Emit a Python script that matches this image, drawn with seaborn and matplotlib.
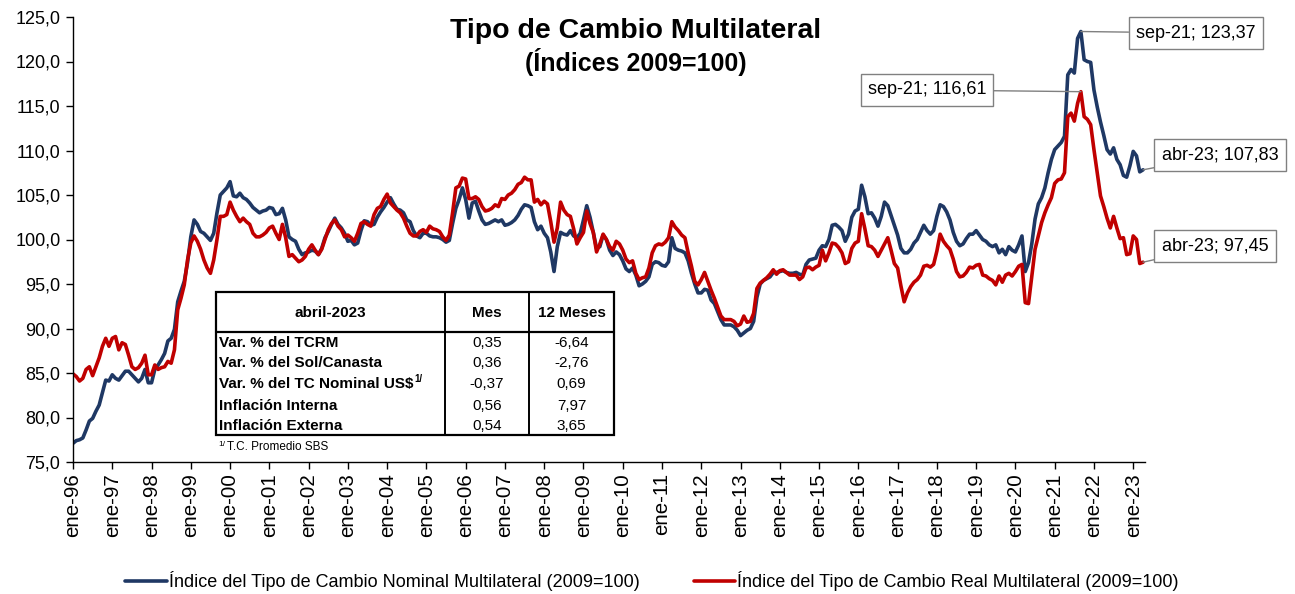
import matplotlib
matplotlib.use("Agg")
import matplotlib.pyplot as plt
import numpy as np
import pandas as pd
import seaborn as sns
from matplotlib.ticker import FuncFormatter, FixedLocator
from matplotlib.lines import Line2D
from matplotlib.patches import Rectangle

# ---------------- data (monthly, ene-1996 .. abr-2023) ----------------
nominal = [
    77.1, 77.4, 77.5, 77.7, 78.6, 79.6, 79.9, 80.7, 81.4, 82.8, 84.2, 84.1,          # 1996
    84.8, 84.4, 84.2, 84.7, 85.2, 85.2, 84.8, 84.4, 84.0, 84.4, 85.4, 83.9,          # 1997
    83.9, 85.4, 85.9, 86.5, 87.2, 88.6, 88.9, 89.9, 93.0, 94.2, 95.3, 97.4,          # 1998
    100.3, 102.2, 101.7, 100.9, 100.7, 100.3, 99.9, 100.7, 103.0, 105.0, 105.4, 105.8,  # 1999
    106.5, 104.9, 104.8, 105.2, 104.7, 104.5, 104.1, 103.6, 103.3, 103.0, 103.2, 103.3,  # 2000
    103.6, 103.5, 102.8, 102.9, 103.5, 102.2, 100.3, 100.0, 99.8, 98.9, 98.3, 98.5,  # 2001
    98.6, 98.8, 98.7, 98.3, 99.0, 100.2, 100.9, 101.7, 102.4, 101.7, 101.3, 100.7,   # 2002
    99.8, 99.9, 99.4, 99.6, 101.0, 102.1, 102.0, 101.6, 101.7, 102.5, 103.1, 103.6,  # 2003
    104.2, 104.7, 104.0, 103.4, 103.3, 103.0, 102.2, 102.0, 101.0, 100.4, 100.2, 100.7,  # 2004
    100.7, 100.4, 100.3, 100.3, 100.2, 100.0, 99.7, 99.9, 101.8, 103.5, 104.5, 105.8,  # 2005
    104.5, 102.4, 104.1, 104.3, 103.2, 102.2, 101.7, 101.8, 102.0, 102.2, 102.0, 102.2,  # 2006
    101.6, 101.7, 101.9, 102.2, 102.7, 103.4, 103.9, 103.8, 103.6, 102.0, 101.1, 101.5,  # 2007
    100.7, 100.2, 98.6, 96.4, 99.2, 100.8, 100.6, 100.5, 101.0, 100.4, 100.2, 100.7,  # 2008
    102.2, 103.8, 102.5, 100.8, 99.0, 99.2, 100.5, 100.0, 98.8, 98.2, 98.6, 98.3,    # 2009
    97.6, 96.7, 96.4, 96.8, 96.0, 94.8, 95.0, 95.3, 95.8, 97.2, 97.5, 97.4,          # 2010
    97.1, 97.0, 97.5, 100.2, 99.0, 98.8, 98.7, 98.5, 97.6, 96.2, 95.0, 94.0,         # 2011
    94.0, 94.4, 94.3, 93.2, 92.8, 91.9, 91.0, 90.4, 90.4, 90.4, 90.2, 89.8,          # 2012
    89.2, 89.5, 89.8, 90.0, 90.8, 93.5, 95.0, 95.4, 95.6, 95.8, 96.3, 96.3,          # 2013
    96.4, 96.5, 96.3, 96.2, 96.2, 96.3, 96.1, 96.0, 97.2, 97.7, 97.8, 97.9,          # 2014
    98.8, 99.3, 99.2, 100.0, 101.6, 101.7, 101.4, 101.0, 99.8, 100.6, 102.5, 103.2,  # 2015
    103.4, 106.1, 104.8, 102.9, 103.0, 102.4, 101.5, 102.6, 104.2, 103.8, 102.7, 101.6,  # 2016
    100.5, 99.0, 98.5, 98.5, 98.9, 99.6, 100.0, 100.8, 101.6, 101.0, 100.6, 101.0,   # 2017
    102.6, 103.9, 103.7, 103.1, 102.2, 100.8, 99.8, 99.3, 99.5, 100.1, 100.6, 100.6,  # 2018
    101.0, 100.5, 100.0, 99.8, 99.4, 99.2, 99.4, 98.5, 98.9, 98.3, 99.2, 98.8,       # 2019
    98.6, 99.4, 100.4, 96.4, 97.4, 99.5, 102.3, 104.0, 104.7, 105.8, 107.5, 109.0,   # 2020
    110.1, 110.5, 110.9, 111.6, 118.5, 119.1, 118.7, 122.6, 123.37, 120.2, 120.0, 119.9,  # 2021
    116.8, 114.9, 113.2, 111.7, 110.1, 109.6, 110.3, 109.0, 108.4, 107.2, 107.0, 108.3,  # 2022
    109.9, 109.4, 107.6, 107.83,                                                       # 2023
]

real = [
    84.9, 84.6, 84.1, 84.4, 85.4, 85.7, 84.7, 85.7, 86.7, 88.0, 88.9, 88.0,          # 1996
    88.9, 89.1, 87.6, 88.4, 88.2, 87.0, 85.7, 85.4, 85.6, 86.1, 87.0, 84.8,          # 1997
    84.8, 85.9, 85.4, 85.6, 85.7, 86.3, 86.1, 87.6, 92.1, 93.4, 94.9, 97.7,          # 1998
    99.6, 100.4, 99.8, 98.9, 97.7, 96.8, 96.2, 97.7, 100.0, 102.6, 102.6, 102.8,     # 1999
    104.2, 103.3, 102.6, 102.0, 102.4, 102.0, 101.7, 100.7, 100.3, 100.3, 100.5, 100.8,  # 2000
    101.3, 101.5, 100.7, 100.0, 101.7, 100.2, 98.1, 98.3, 97.9, 97.5, 97.7, 98.1,    # 2001
    98.9, 99.4, 98.8, 98.3, 98.9, 100.0, 101.1, 101.8, 102.2, 101.5, 101.1, 100.3,   # 2002
    100.5, 100.2, 99.8, 100.7, 101.8, 102.0, 101.7, 101.5, 102.8, 103.5, 103.7, 104.5,  # 2003
    105.1, 104.1, 103.7, 103.3, 103.0, 102.4, 101.5, 100.7, 100.4, 100.4, 100.9, 101.1,  # 2004
    100.8, 101.5, 101.2, 101.1, 100.9, 100.3, 99.9, 100.5, 103.0, 105.8, 106.0, 106.9,  # 2005
    106.8, 104.6, 104.6, 104.8, 104.5, 103.7, 103.2, 103.3, 103.5, 103.9, 103.7, 104.6,  # 2006
    104.5, 105.0, 105.2, 105.6, 106.2, 106.4, 107.0, 106.7, 106.7, 104.2, 104.5, 103.9,  # 2007
    104.3, 104.0, 102.0, 99.7, 101.3, 104.2, 103.3, 102.8, 102.6, 101.2, 99.5, 100.2,  # 2008
    100.8, 103.2, 101.8, 100.8, 98.6, 99.5, 100.6, 100.0, 99.2, 98.8, 99.8, 99.5,    # 2009
    98.8, 97.8, 97.4, 97.6, 96.2, 95.5, 95.7, 95.8, 96.8, 98.5, 99.3, 99.5,          # 2010
    99.4, 99.7, 100.2, 102.0, 101.4, 101.0, 100.5, 100.2, 98.5, 97.0, 95.3, 94.9,    # 2011
    95.5, 96.3, 95.3, 94.3, 93.4, 92.4, 91.4, 91.0, 91.0, 91.0, 90.8, 90.3,          # 2012
    90.5, 91.4, 90.7, 90.8, 91.7, 94.5, 95.1, 95.4, 95.7, 96.1, 96.6, 96.1,          # 2013
    96.5, 96.6, 96.3, 96.0, 96.0, 96.0, 95.5, 95.8, 96.8, 96.9, 96.6, 96.9,          # 2014
    97.1, 98.8, 97.6, 98.5, 99.6, 99.5, 99.1, 98.5, 97.3, 97.5, 99.0, 99.6,          # 2015
    99.8, 102.9, 101.2, 99.3, 99.2, 98.8, 98.1, 98.8, 99.5, 100.2, 98.8, 97.3,       # 2016
    96.8, 94.8, 93.0, 94.0, 94.7, 95.2, 95.5, 96.0, 97.0, 97.1, 96.9, 97.2,          # 2017
    98.7, 100.6, 99.8, 99.3, 98.9, 97.8, 96.4, 95.8, 95.9, 96.3, 96.9, 96.8,         # 2018
    97.1, 97.2, 96.0, 95.9, 95.6, 95.4, 94.9, 95.9, 95.2, 96.0, 96.2, 95.9,          # 2019
    96.4, 97.0, 97.2, 92.9, 92.8, 95.9, 98.9, 100.4, 101.9, 103.0, 103.9, 104.7,     # 2020
    106.3, 106.7, 106.8, 107.5, 113.8, 114.2, 113.3, 115.3, 116.61, 113.8, 113.5, 112.9,  # 2021
    110.1, 107.5, 104.9, 103.7, 102.4, 101.3, 102.6, 101.3, 100.1, 100.2, 98.3, 98.4,  # 2022
    100.4, 100.0, 97.3, 97.45,                                                         # 2023
]

tick_labels = ["ene-96", "ene-97", "ene-98", "ene-99", "ene-00", "ene-01", "ene-02",
               "ene-03", "ene-04", "ene-05", "ene-06", "ene-07", "ene-08", "ene-09",
               "ene-10", "ene-11", "ene-12", "ene-13", "ene-14", "ene-15", "ene-16",
               "ene-17", "ene-18", "ene-19", "ene-20", "ene-21", "ene-22", "ene-23"]

series_names = ["Índice del Tipo de Cambio Nominal Multilateral (2009=100)",
                "Índice del Tipo de Cambio Real Multilateral (2009=100)"]

table_header = ["abril-2023", "Mes", "12 Meses"]
table_rows = ["Var. % del TCRM", "Var. % del Sol/Canasta", "Var. % del TC Nominal US$",
              "Inflación Interna", "Inflación Externa"]
table_mes = ["0,35", "0,36", "-0,37", "0,56", "0,54"]
table_12m = ["-6,64", "-2,76", "0,69", "7,97", "3,65"]

peak_idx = 308   # sep-21
last_idx = 327   # abr-23

# ---------------- style ----------------
W, H = 1295, 594
BLUE = "#1F3864"
RED = "#C00000"
GRAY = "#808080"

sns.set_theme(style="ticks")
plt.rcParams['font.family'] = ['Liberation Sans', 'DejaVu Sans']
plt.rcParams['text.color'] = 'black'
plt.rcParams['axes.labelcolor'] = 'black'
plt.rcParams['xtick.color'] = 'black'
plt.rcParams['ytick.color'] = 'black'

fig = plt.figure(figsize=(W / 100, H / 100), dpi=100)
ax = fig.add_axes([73 / W, 1 - 462 / H, (1145 - 73) / W, (462 - 17) / H])


def fp(x, y):
    """pixel (from top-left) -> figure fraction"""
    return x / W, 1 - y / H


n = len(nominal)
df = pd.DataFrame({
    "mes": list(range(n)) * 2,
    "valor": nominal + real,
    "serie": [series_names[0]] * n + [series_names[1]] * n,
})

sns.lineplot(data=df, x="mes", y="valor", hue="serie", palette=[BLUE, RED],
             linewidth=2.6, ax=ax, legend=False)

ax.set_xlim(0, 327.6)
ax.set_ylim(75, 125)
ax.set_xlabel("")
ax.set_ylabel("")
ax.yaxis.set_major_locator(FixedLocator(np.arange(75, 125.1, 5)))
ax.yaxis.set_major_formatter(FuncFormatter(lambda v, p: f"{v:.1f}".replace(".", ",")))
ax.set_xticks([12 * i for i in range(len(tick_labels))])
ax.set_xticklabels(tick_labels, rotation=90)
ax.tick_params(axis="y", labelsize=13, direction="out", length=5, width=1, colors="black",
               labelcolor="black", pad=4)
ax.tick_params(axis="x", labelsize=14.8, direction="out", length=5, width=1, colors="black",
               labelcolor="black", pad=3)
for s in ["top", "right"]:
    ax.spines[s].set_visible(False)
for s in ["left", "bottom"]:
    ax.spines[s].set_color("black")
    ax.spines[s].set_linewidth(1.0)

# ---------------- title ----------------
fig.text(*fp(636, 31), "Tipo de Cambio Multilateral", ha="center", va="center",
         fontsize=20.5, fontweight="bold", color="black")
fig.text(*fp(636, 62), "(Índices 2009=100)", ha="center", va="center",
         fontsize=18, fontweight="bold", color="black")

# ---------------- annotations ----------------
def fmt(v):
    return f"{v:.2f}".replace(".", ",")

bbox = dict(boxstyle="square,pad=0.4", fc="white", ec=GRAY, lw=1.0)
arrow = dict(arrowstyle="-", color=GRAY, lw=1.0, shrinkA=0, shrinkB=0)
ax.annotate(f"sep-21; {fmt(nominal[peak_idx])}", xy=(peak_idx, nominal[peak_idx]), xycoords="data",
            xytext=fp(1196, 33), textcoords="figure fraction", ha="center", va="center",
            fontsize=13, color="black", bbox=bbox, arrowprops=arrow, annotation_clip=False)
ax.annotate(f"sep-21; {fmt(real[peak_idx])}", xy=(peak_idx, real[peak_idx]), xycoords="data",
            xytext=fp(927, 90), textcoords="figure fraction", ha="center", va="center",
            fontsize=13, color="black", bbox=bbox, arrowprops=arrow, annotation_clip=False)
ax.annotate(f"abr-23; {fmt(nominal[last_idx])}", xy=(last_idx, nominal[last_idx]), xycoords="data",
            xytext=fp(1220, 155), textcoords="figure fraction", ha="center", va="center",
            fontsize=13, color="black", bbox=bbox, arrowprops=arrow, annotation_clip=False)
ax.annotate(f"abr-23; {fmt(real[last_idx])}", xy=(last_idx, real[last_idx]), xycoords="data",
            xytext=fp(1215, 246), textcoords="figure fraction", ha="center", va="center",
            fontsize=13, color="black", bbox=bbox, arrowprops=arrow, annotation_clip=False)

# ---------------- table ----------------
x0, x1, x2, x3 = 216, 445, 529, 614
y0, yh, y3 = 292, 332, 435
rect = Rectangle(fp(x0, y3), (x3 - x0) / W, (y3 - y0) / H, transform=fig.transFigure,
                 fill=True, fc="white", ec="black", lw=1.6, zorder=5)
fig.add_artist(rect)
for xv in (x1, x2):
    fig.add_artist(Line2D([xv / W, xv / W], [1 - y0 / H, 1 - y3 / H], transform=fig.transFigure,
                          color="black", lw=1.4, zorder=6))
fig.add_artist(Line2D([x0 / W, x3 / W], [1 - yh / H, 1 - yh / H], transform=fig.transFigure,
                      color="black", lw=1.6, zorder=6))

fs_tab = 11
fig.text(*fp((x0 + x1) / 2, 313), table_header[0], ha="center", va="center",
         fontsize=fs_tab, fontweight="bold", zorder=7)
fig.text(*fp((x1 + x2) / 2, 313), table_header[1], ha="center", va="center",
         fontsize=fs_tab, fontweight="bold", zorder=7)
fig.text(*fp((x2 + x3) / 2, 313), table_header[2], ha="center", va="center",
         fontsize=fs_tab, fontweight="bold", zorder=7)

row_y = [343, 363, 384, 406, 426]
renderer = fig.canvas.get_renderer()
for i, (lab, m, a) in enumerate(zip(table_rows, table_mes, table_12m)):
    t = fig.text(*fp(219, row_y[i]), lab, ha="left", va="center", fontsize=fs_tab,
                 fontweight="bold", zorder=7)
    if "US$" in lab:
        bb = t.get_window_extent(renderer=renderer)
        fig.text(bb.x1 / W + 1 / W, 1 - (row_y[i] - 5) / H, "1/", ha="left", va="center",
                 fontsize=7, fontweight="bold", zorder=7)
    fig.text(*fp((x1 + x2) / 2, row_y[i]), m, ha="center", va="center", fontsize=fs_tab, zorder=7)
    fig.text(*fp((x2 + x3) / 2, row_y[i]), a, ha="center", va="center", fontsize=fs_tab, zorder=7)

fig.text(*fp(218, 444), "1/", ha="left", va="center", fontsize=6, zorder=7)
fig.text(*fp(227, 447), "T.C. Promedio SBS", ha="left", va="center", fontsize=8.5, zorder=7)

# ---------------- legend ----------------
handles = [Line2D([], [], color=BLUE, lw=2.6), Line2D([], [], color=RED, lw=2.6)]
leg = fig.legend(handles, series_names, loc="center", bbox_to_anchor=fp(652, 581), ncol=2,
                 frameon=False, fontsize=13, handlelength=2.3, handletextpad=0.1,
                 columnspacing=3.0)
for t in leg.get_texts():
    t.set_color("black")

fig.savefig("out.png", dpi=100)
